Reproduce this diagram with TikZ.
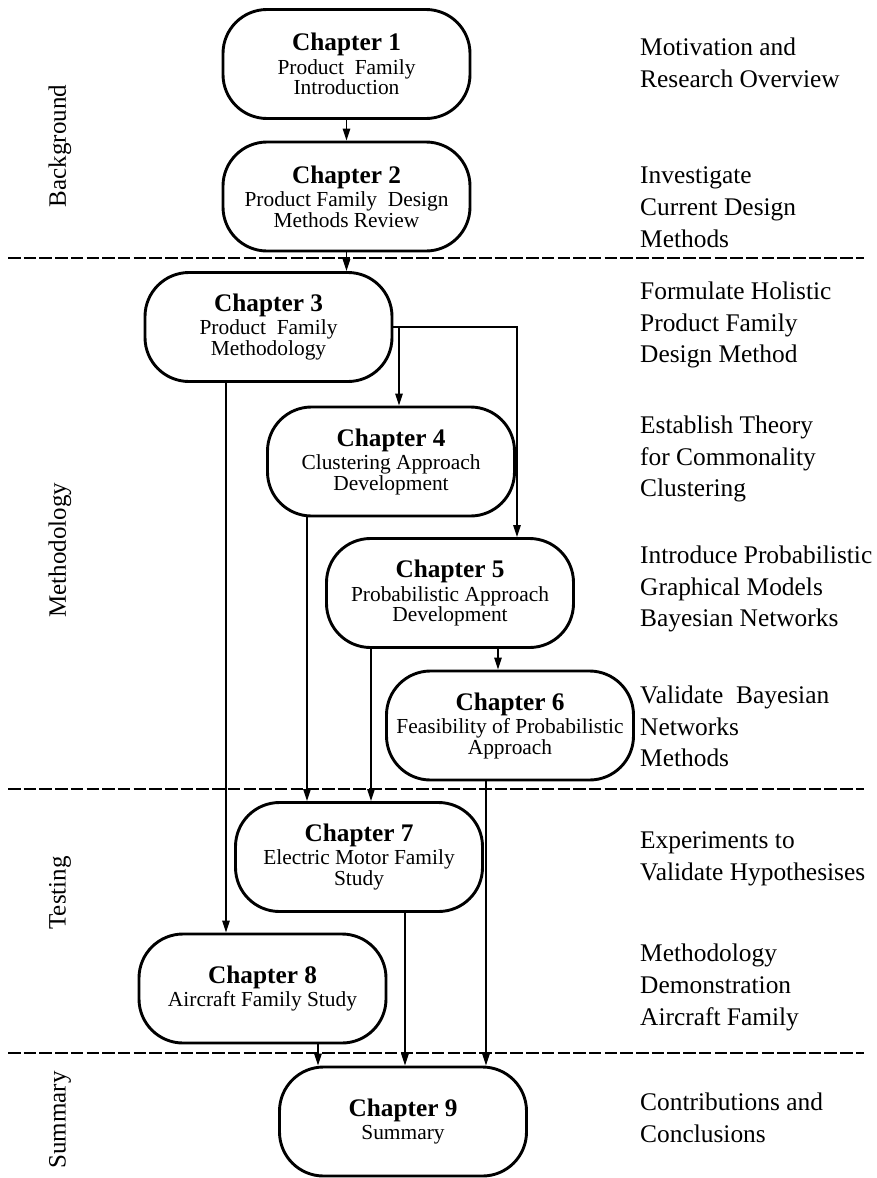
\documentclass[tikz,border=0pt]{standalone}
\usepackage{fontspec}
\setmainfont{Liberation Serif}
\usetikzlibrary{arrows.meta}
\newcommand\chtitle[1]{{\fontsize{25.3}{24}\selectfont\bfseries #1}\\[3pt]}
\begin{document}
\begin{tikzpicture}[x=1pt,y=-1pt,
  chap/.style={draw, line width=2.9pt, rounded corners=44pt,
    minimum width=247pt, minimum height=109pt, inner sep=0pt,
    align=center, font=\fontsize{21.4}{20.5}\selectfont},
  arr/.style={line width=1.4pt, -{Triangle[length=12pt,width=7.5pt]}},
  sep/.style={line width=2.2pt, dash pattern=on 12.5pt off 3.2pt},
  aim/.style={anchor=west, align=left, inner sep=0pt,
    font=\fontsize{25.4}{31.8}\selectfont},
  part/.style={rotate=90, inner sep=0pt, font=\fontsize{25}{30}\selectfont}]
\useasboundingbox (0,0) rectangle (877,1178);

% section separators
\draw[sep] (8,258) -- (864,258);
\draw[sep] (8,789) -- (864,789);
\draw[sep] (8,1053) -- (864,1053);

% section labels
\node[part] (pb) at (60,146) {Background};
\node[part] (pm) at (60,550) {Methodology};
\node[part] (pt) at (60,893) {Testing};
\node[part] (ps) at (60,1120) {Summary};

% chapters
\node[chap] (c1) at (346.5,64) {\chtitle{Chapter 1}Product\ \ Family\\Introduction};
\node[chap] (c2) at (346.5,196.5) {\chtitle{Chapter 2}Product Family\ \ Design\\Methods Review};
\node[chap] (c3) at (268.5,327) {\chtitle{Chapter 3}Product\ \ Family\\Methodology};
\node[chap] (c4) at (391,461.5) {\chtitle{Chapter 4}Clustering Approach\\Development};
\node[chap] (c5) at (450,593) {\chtitle{Chapter 5}Probabilistic Approach\\Development};
\node[chap] (c6) at (510,725.5) {\chtitle{Chapter 6}Feasibility of Probabilistic\\Approach};
\node[chap] (c7) at (359,857) {\chtitle{Chapter 7}Electric Motor Family\\Study};
\node[chap] (c8) at (262.5,988.5) {\chtitle{Chapter 8}Aircraft Family Study};
\node[chap] (c9) at (403,1121.5) {\chtitle{Chapter 9}Summary};

% aims of each chapter
\node[aim] (a1) at (640,63) {Motivation and\\Research Overview};
\node[aim] (a2) at (640,207.5) {Investigate\\Current Design\\Methods};
\node[aim] (a3) at (640,325) {Formulate Holistic\\Product Family\\Design Method};
\node[aim] (a4) at (640,459) {Establish Theory\\for Commonality\\Clustering};
\node[aim] (a5) at (640,589) {Introduce Probabilistic\\Graphical Models\\Bayesian Networks};
\node[aim] (a6) at (640,726.5) {Validate\ \ Bayesian\\Networks\\Methods};
\node[aim] (a7) at (640,859) {Experiments to\\Validate Hypothesises};
\node[aim] (a8) at (640,987.5) {Methodology\\Demonstration\\Aircraft Family};
\node[aim] (a9) at (640,1117.5) {Contributions and\\Conclusions};

% connector lanes
\coordinate (l38) at (226,0);
\coordinate (l47) at (307,0);
\coordinate (l57) at (371,0);
\coordinate (l34) at (399,0);
\coordinate (l79) at (405,0);
\coordinate (l89) at (318,0);
\coordinate (l69) at (486,0);
\coordinate (l56) at (498,0);
\coordinate (l35) at (517,0);

% connectors
\draw[arr] (c1) -- (c2);
\draw[arr] (c2.south) -- (c2.south |- c3.north);
\draw[arr] (c3.east) -- (c3.east -| l35) -- (c5.north -| l35);
\draw[arr] (c3.east -| l34) -- (c4.north -| l34);
\draw[arr] (c3.south -| l38) -- (c8.north -| l38);
\draw[arr] (c4.south -| l47) -- (c7.north -| l47);
\draw[arr] (c5.south -| l57) -- (c7.north -| l57);
\draw[arr] (c5.south -| l56) -- (c6.north -| l56);
\draw[arr] (c6.south -| l69) -- (c9.north -| l69);
\draw[arr] (c7.south -| l79) -- (c9.north -| l79);
\draw[arr] (c8.south -| l89) -- (c9.north -| l89);
\end{tikzpicture}
\end{document}
